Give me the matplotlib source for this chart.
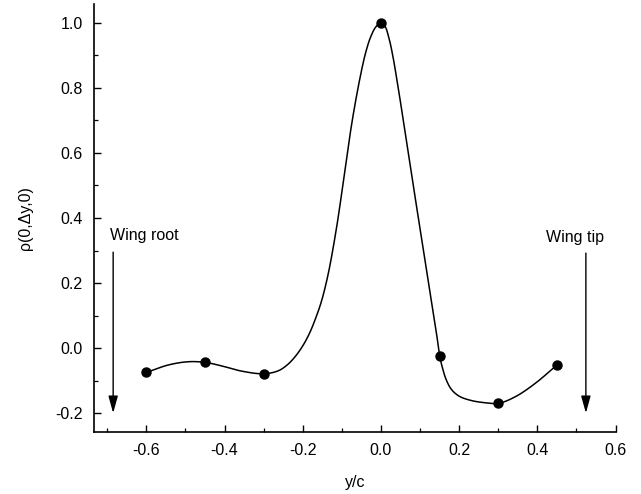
import numpy as np
import matplotlib
matplotlib.use("Agg")
import matplotlib.pyplot as plt
from matplotlib.ticker import MultipleLocator, FormatStrFormatter

# Measured correlation values (markers)
y_over_c = [-0.60, -0.45, -0.30, 0.00, 0.15, 0.30, 0.45]
rho = [-0.075, -0.044, -0.079, 1.000, -0.024, -0.170, -0.052]

curve_x = [-0.600, -0.544, -0.493, -0.450, -0.407, -0.356, -0.300, -0.263,
           -0.240, -0.220, -0.200, -0.183, -0.167, -0.152, -0.135, -0.116,
           -0.103, -0.092, -0.080, -0.069, -0.053, -0.040, -0.027, -0.013,
           0.000, 0.010, 0.020, 0.030, 0.040, 0.053, 0.066, 0.079, 0.091,
           0.104, 0.117, 0.130, 0.142, 0.150, 0.157, 0.166, 0.180, 0.200,
           0.230, 0.265, 0.300, 0.343, 0.394, 0.450]
curve_y = [-0.075, -0.052, -0.042, -0.044, -0.055, -0.071, -0.079, -0.070,
           -0.052, -0.027, 0.007, 0.045, 0.092, 0.145, 0.228, 0.353,
           0.455, 0.548, 0.650, 0.732, 0.835, 0.905, 0.955, 0.988,
           1.000, 0.990, 0.955, 0.900, 0.830, 0.732, 0.630, 0.527, 0.435,
           0.336, 0.236, 0.137, 0.045, -0.024, -0.060, -0.095, -0.127, -0.148,
           -0.161, -0.168, -0.170, -0.150, -0.109, -0.052]

x_ticks = [-0.6, -0.4, -0.2, 0.0, 0.2, 0.4, 0.6]
y_ticks = [-0.2, 0.0, 0.2, 0.4, 0.6, 0.8, 1.0]

root_label = "Wing root"
tip_label = "Wing tip"
root_x = -0.685
tip_x = 0.524


def smooth_path(x, y, sx=391.0, sy=325.0, n=30):
    """Centripetal Catmull-Rom rendering through the read curve points."""
    P = np.column_stack([np.asarray(x) * sx, np.asarray(y) * sy])
    P = np.vstack([2 * P[0] - P[1], P, 2 * P[-1] - P[-2]])
    out = []
    for i in range(1, len(P) - 2):
        p0, p1, p2, p3 = P[i - 1], P[i], P[i + 1], P[i + 2]
        t0 = 0.0
        t1 = t0 + max(np.linalg.norm(p1 - p0), 1e-9) ** 0.5
        t2 = t1 + max(np.linalg.norm(p2 - p1), 1e-9) ** 0.5
        t3 = t2 + max(np.linalg.norm(p3 - p2), 1e-9) ** 0.5
        tt = np.linspace(t1, t2, n)[:, None]
        A1 = (t1 - tt) / (t1 - t0) * p0 + (tt - t0) / (t1 - t0) * p1
        A2 = (t2 - tt) / (t2 - t1) * p1 + (tt - t1) / (t2 - t1) * p2
        A3 = (t3 - tt) / (t3 - t2) * p2 + (tt - t2) / (t3 - t2) * p3
        B1 = (t2 - tt) / (t2 - t0) * A1 + (tt - t0) / (t2 - t0) * A2
        B2 = (t3 - tt) / (t3 - t1) * A2 + (tt - t1) / (t3 - t1) * A3
        out.append((t2 - tt) / (t2 - t1) * B1 + (tt - t1) / (t2 - t1) * B2)
    C = np.vstack(out)
    return C[:, 0] / sx, C[:, 1] / sy


plt.rcParams['font.family'] = ['Liberation Sans', 'DejaVu Sans']
plt.rcParams['font.size'] = 11.5

fig = plt.figure(figsize=(6.41, 4.94), dpi=100)
W, H = 641.0, 494.0
ax = fig.add_axes([94 / W, (H - 432.3) / H, (615.6 - 94) / W, (432.3 - 4) / H])

sx_, sy_ = smooth_path(curve_x, curve_y)
ax.plot(sx_, sy_, color='black', lw=1.1, solid_capstyle='round')
ax.plot(y_over_c, rho, 'o', color='black', ms=6.5, zorder=3)

ax.set_xlim(-0.734, 0.6)
ax.set_ylim(-0.259, 1.058)
ax.set_xticks(x_ticks)
ax.set_yticks(y_ticks)
ax.xaxis.set_minor_locator(MultipleLocator(0.1))
ax.yaxis.set_minor_locator(MultipleLocator(0.1))
ax.xaxis.set_major_formatter(FormatStrFormatter('%.1f'))
ax.yaxis.set_major_formatter(FormatStrFormatter('%.1f'))
ax.tick_params(which='major', direction='in', length=5, width=1.0, pad=8,
               labelsize=11.5, colors='black')
ax.tick_params(which='minor', direction='in', length=3, width=0.9)

for s in ['top', 'right']:
    ax.spines[s].set_visible(False)
for s in ['left', 'bottom']:
    ax.spines[s].set_linewidth(1.2)

ax.set_xlabel('y/c', fontsize=11.5, labelpad=12)
ax.set_ylabel('ρ(0,Δy,0)', fontsize=11.5, labelpad=16)

arrow_kw = dict(arrowstyle='-|>,head_length=0.9,head_width=0.25', color='black',
                lw=1.0, shrinkA=0, shrinkB=0)
ax.annotate('', xy=(root_x, -0.2), xytext=(root_x, 0.295), arrowprops=arrow_kw)
ax.annotate('', xy=(tip_x, -0.2), xytext=(tip_x, 0.292), arrowprops=arrow_kw)
ax.text(-0.694, 0.345, root_label, ha='left', va='center', fontsize=11.5)
ax.text(0.496, 0.340, tip_label, ha='center', va='center', fontsize=11.5)

fig.savefig('out.png', dpi=100)
